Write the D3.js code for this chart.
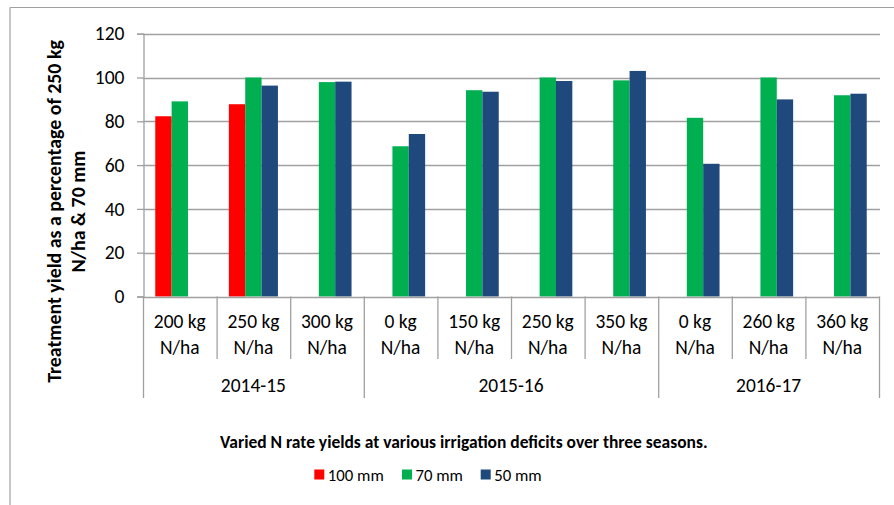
<!DOCTYPE html>
<html>
<head>
<meta charset="utf-8">
<script src="https://cdn.jsdelivr.net/npm/d3@7"></script>
<style>
  html, body { margin: 0; padding: 0; background: #fff; }
  svg { display: block; }
  text { font-family: Carlito, Lato, "Open Sans", sans-serif; fill: #000; }
</style>
</head>
<body>
<svg id="chart" width="894" height="505"></svg>
<script>
// ---------------- data ----------------
const seasons = ["2014-15", "2015-16", "2016-17"];
const rateLabels = ["200 kg", "250 kg", "300 kg", "0 kg", "150 kg", "250 kg", "350 kg", "0 kg", "260 kg", "360 kg"];
const categorySeason = ["2014-15", "2014-15", "2014-15", "2015-16", "2015-16", "2015-16", "2015-16", "2016-17", "2016-17", "2016-17"];
const seriesNames = ["100 mm", "70 mm", "50 mm"];
const mm100 = [82.3, 87.8, null, null, null, null, null, null, null, null];
const mm70 = [89.1, 100, 97.9, 68.6, 94.2, 100, 98.7, 81.6, 100, 91.9];
const mm50 = [null, 96.3, 98.1, 74.2, 93.5, 98.4, 103.0, 60.6, 90.0, 92.6];
const yTicks = [0, 20, 40, 60, 80, 100, 120];
const chartTitle = "Varied N rate yields at various irrigation deficits over three seasons.";
const yTitleLines = ["Treatment yield as a percentage of 250 kg", "N/ha & 70 mm"];

// ---------------- layout ----------------
const seriesValues = [mm100, mm70, mm50];
const colors = ["#ff0000", "#00b050", "#1f497d"];
const plotLeft = 143, plotRight = 879, plotTop = 33.7, plotBottom = 296.5;
const gridColor = "#a0a0a0";

const svg = d3.select("#chart");

// outer chart border (only left and top visible)
svg.append("line").attr("x1", 10).attr("x2", 894).attr("y1", 7.5).attr("y2", 7.5)
  .attr("stroke", gridColor).attr("stroke-width", 1.2);
svg.append("line").attr("x1", 10).attr("x2", 10).attr("y1", 7.5).attr("y2", 505)
  .attr("stroke", gridColor).attr("stroke-width", 1.2);

const idx = d3.range(rateLabels.length);
const x = d3.scaleBand().domain(idx).range([plotLeft, plotRight]).paddingInner(0).paddingOuter(0);
const bw = x.bandwidth();
const xs = d3.scaleBand().domain(seriesNames).range([bw / 6, bw * 5 / 6]).padding(0);
const y = d3.scaleLinear().domain([0, 120]).range([plotBottom, plotTop]);

// helper: fit font size so that a reference string has a given width
function fitSize(ref, target, weight) {
  const t = svg.append("text").attr("font-size", 20).attr("font-weight", weight || "normal").text(ref);
  const w = t.node().getComputedTextLength();
  t.remove();
  return 20 * target / w;
}

// gridlines
svg.append("g").selectAll("line").data(yTicks.filter(d => d > 0)).join("line")
  .attr("x1", plotLeft).attr("x2", plotRight + 1)
  .attr("y1", d => Math.round(y(d)) + 0.5).attr("y2", d => Math.round(y(d)) + 0.5)
  .attr("stroke", gridColor).attr("stroke-width", 1.3);

// bars
const g = svg.append("g");
seriesValues.forEach((vals, si) => {
  g.append("g").selectAll("rect")
    .data(idx.filter(i => vals[i] != null))
    .join("rect")
    .attr("x", i => x(i) + xs(seriesNames[si]))
    .attr("width", xs.bandwidth())
    .attr("y", i => y(vals[i]))
    .attr("height", i => y(0) - y(vals[i]))
    .attr("fill", colors[si]);
});

// y axis
const tickSize = fitSize("120", 29.7);
const yAxis = d3.axisLeft(y).tickValues(yTicks).tickSize(6.5).tickPadding(12.5).tickFormat(d3.format("d"));
const ya = svg.append("g").attr("transform", `translate(${plotLeft + 0.5},0)`).call(yAxis);
ya.select(".domain").attr("stroke", gridColor).attr("stroke-width", 1.3);
ya.selectAll(".tick line").attr("stroke", gridColor).attr("stroke-width", 1.3);
ya.selectAll(".tick text").attr("font-size", tickSize).attr("font-family", null).attr("fill", "#000");

// x axis baseline
svg.append("line").attr("x1", plotLeft).attr("x2", plotRight + 1)
  .attr("y1", Math.round(plotBottom) + 0.5).attr("y2", Math.round(plotBottom) + 0.5)
  .attr("stroke", gridColor).attr("stroke-width", 1.3);

// category separators
const boundaries = d3.range(rateLabels.length + 1);
svg.append("g").selectAll("line").data(boundaries).join("line")
  .attr("x1", i => (i < rateLabels.length ? x(i) : plotRight) + 0.5)
  .attr("x2", i => (i < rateLabels.length ? x(i) : plotRight) + 0.5)
  .attr("y1", plotBottom)
  .attr("y2", i => (i === 0 || i === rateLabels.length || categorySeason[i] !== categorySeason[i - 1]) ? 398 : 359)
  .attr("stroke", gridColor).attr("stroke-width", 1.3);

// category labels
const catSize = fitSize("200 kg", 52);
const cl = svg.append("g").selectAll("text").data(idx).join("text")
  .attr("text-anchor", "middle").attr("font-size", catSize)
  .attr("x", i => x(i) + bw / 2);
cl.append("tspan").attr("x", i => x(i) + bw / 2).attr("y", 328.3).text(i => rateLabels[i]);
cl.append("tspan").attr("x", i => x(i) + bw / 2).attr("y", 353.8).text("N/ha");

// season labels
svg.append("g").selectAll("text").data(seasons).join("text")
  .attr("text-anchor", "middle").attr("font-size", catSize)
  .attr("x", s => {
    const ii = idx.filter(i => categorySeason[i] === s);
    return (x(ii[0]) + x(ii[ii.length - 1]) + bw) / 2;
  })
  .attr("y", 391.5).text(s => s);

// y axis title
const ytSize = fitSize(yTitleLines[0], 343, "bold");
const yt = svg.append("text").attr("font-weight", "bold").attr("font-size", ytSize)
  .attr("text-anchor", "middle")
  .attr("transform", "translate(0,211.5) rotate(-90)");
yt.append("tspan").attr("x", 0).attr("y", 61).text(yTitleLines[0]);
yt.append("tspan").attr("x", 0).attr("y", 84.5).text(yTitleLines[1]);

// chart title (below)
const tSize = fitSize(chartTitle, 488, "bold");
svg.append("text").attr("font-weight", "bold").attr("font-size", tSize)
  .attr("text-anchor", "middle").attr("x", 463.8).attr("y", 447.5).text(chartTitle);

// legend
const legSize = fitSize("100 mm", 56);
const legX = [314.3, 402, 480.7];
const lg = svg.append("g").selectAll("g").data(seriesNames).join("g")
  .attr("transform", (d, i) => `translate(${legX[i]},469.5)`);
lg.append("rect").attr("width", 10).attr("height", 10).attr("fill", (d, i) => colors[i]);
lg.append("text").attr("x", 13.5).attr("y", 11).attr("font-size", legSize).text(d => d);
</script>
</body>
</html>
